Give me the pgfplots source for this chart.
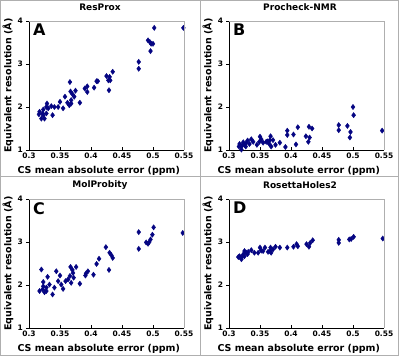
\documentclass[border=0pt]{standalone}
\usepackage{fontspec}
\setmainfont{DejaVu Sans}
\usepackage{pgfplots}
\pgfplotsset{compat=1.18}
\definecolor{pt}{RGB}{5,5,130}
\definecolor{frame}{RGB}{175,175,175}
\pgfplotsset{
  every axis title shift=0pt,
  panel/.style={
    scale only axis, width=155pt, height=129pt,
    xmin=0.3, xmax=0.55, ymin=1, ymax=4,
    xtick={0.3,0.35,0.4,0.45,0.5,0.55},
    ytick={1,2,3,4},
    axis lines*=left,
    axis line style={black, line width=0.7pt},
    tick align=inside,
    major tick length=3pt,
    tick style={black, line width=0.6pt},
    y tick style={xshift=-3pt},
    /pgf/number format/assume math mode=true,
    ticklabel style={font=\bfseries\fontsize{7.5}{8}\selectfont},
    xticklabel style={yshift=1pt},
    yticklabel style={xshift=-2.5pt},
    label style={font=\bfseries\fontsize{9.5}{11}\selectfont},
    xlabel={CS mean absolute error (ppm)},
    ylabel={Equivalent resolution (Å)},
    xlabel style={at={(axis description cs:0.45,0)}, anchor=center, yshift=-21pt},
    ylabel style={at={(axis description cs:-0.135,0.5)}, anchor=center},
    title style={font=\bfseries\fontsize{9}{10}\selectfont, at={(axis description cs:0.458,1)}, anchor=center, yshift=13.5pt},
    clip=false,
    after end axis/.code={\draw[frame, line width=0.7pt] (rel axis cs:0,1) -- (rel axis cs:1,1) -- (rel axis cs:1,0);},
  },
  pts/.style={only marks, mark=diamond*, mark size=2.6pt, color=pt, mark options={fill=pt, draw=pt}},
}
\newcommand{\letter}[1]{\node[anchor=north west, inner sep=0pt, font=\bfseries\fontsize{16}{16}\selectfont] at (rel axis cs:0,1) [xshift=4pt, yshift=-3pt] {#1};}
\begin{document}
\begin{tikzpicture}
\useasboundingbox (0,0) rectangle (399pt,356pt);
\draw[frame, line width=0.8pt] (0.4pt,0.4pt) rectangle (398.6pt,355.6pt);
\draw[frame, line width=0.8pt] (200pt,0) -- (200pt,356pt);
\draw[frame, line width=0.8pt] (0,180pt) -- (399pt,180pt);
% Panel A
\begin{axis}[panel, at={(29pt,206pt)}, anchor=south west, title={ResProx}]
\addplot[pts] coordinates {
(0.549,3.84) (0.502,3.84) (0.492,3.55) (0.495,3.51) (0.497,3.47) (0.500,3.47) (0.496,3.30)
(0.477,3.05) (0.477,2.89) (0.435,2.82) (0.430,2.70) (0.425,2.72) (0.428,2.62) (0.431,2.62)
(0.429,2.39) (0.411,2.60) (0.409,2.60) (0.405,2.45) (0.394,2.48) (0.394,2.35) (0.390,2.43)
(0.382,2.10) (0.375,2.38) (0.373,2.24) (0.367,2.36) (0.366,2.58) (0.368,2.16) (0.365,2.04)
(0.368,2.08) (0.358,2.24) (0.355,1.97) (0.350,2.12) (0.347,2.00) (0.341,2.00) (0.336,2.02)
(0.338,1.81) (0.331,1.97) (0.328,2.00) (0.323,1.94) (0.322,1.85) (0.320,1.73) (0.325,1.73)
(0.316,1.83) (0.317,1.89) (0.323,1.81) (0.328,1.85) (0.329,2.08) (0.370,2.30) (0.362,2.10)
};
\letter{A}
\end{axis}
% Panel B
\begin{axis}[panel, at={(229pt,206pt)}, anchor=south west, title={Procheck-NMR}]
\addplot[pts] coordinates {
(0.547,1.45) (0.500,2.00) (0.501,1.81) (0.491,1.56) (0.496,1.42) (0.495,1.29) (0.477,1.58)
(0.477,1.46) (0.434,1.50) (0.429,1.54) (0.430,1.29) (0.428,1.19) (0.424,1.32) (0.411,1.53)
(0.408,1.13) (0.404,1.36) (0.394,1.45) (0.394,1.35) (0.391,1.07) (0.382,1.17) (0.375,1.12)
(0.371,1.23) (0.367,1.32) (0.366,1.23) (0.365,1.14) (0.368,1.08) (0.360,1.19) (0.355,1.17)
(0.350,1.31) (0.349,1.19) (0.345,1.12) (0.339,1.19) (0.336,1.25) (0.333,1.14) (0.328,1.17)
(0.325,1.12) (0.323,1.18) (0.320,1.08) (0.317,1.14) (0.320,1.01) (0.327,1.08) (0.316,1.08)
(0.362,1.20) (0.352,1.25) (0.330,1.22) (0.322,1.12)
};
\letter{B}
\end{axis}
% Panel C
\begin{axis}[panel, at={(29pt,28pt)}, anchor=south west, title={MolProbity}]
\addplot[pts] coordinates {
(0.548,3.21) (0.501,3.34) (0.499,3.17) (0.496,3.06) (0.494,3.00) (0.492,2.96) (0.489,2.99)
(0.477,3.23) (0.477,2.84) (0.435,2.63) (0.433,2.69) (0.430,2.75) (0.424,2.88) (0.429,2.35)
(0.413,2.61) (0.409,2.49) (0.404,2.24) (0.395,2.32) (0.392,2.27) (0.391,2.22) (0.382,2.03)
(0.376,2.42) (0.372,2.17) (0.371,2.28) (0.367,2.42) (0.366,2.21) (0.368,2.05) (0.363,2.13)
(0.359,2.09) (0.355,1.91) (0.352,2.01) (0.350,2.22) (0.347,2.09) (0.344,2.32) (0.341,1.94)
(0.338,1.78) (0.333,2.01) (0.330,2.19) (0.328,1.94) (0.323,2.07) (0.322,1.90) (0.320,2.36)
(0.317,1.86) (0.325,1.83) (0.328,1.86) (0.323,1.97) (0.370,2.35)
};
\letter{C}
\end{axis}
% Panel D
\begin{axis}[panel, at={(229pt,28pt)}, anchor=south west, title={RosettaHoles2}]
\addplot[pts] coordinates {
(0.548,3.08) (0.501,3.12) (0.497,3.07) (0.494,3.06) (0.477,3.05) (0.477,2.98) (0.435,3.04)
(0.431,2.98) (0.425,2.95) (0.429,2.89) (0.411,2.90) (0.409,2.95) (0.404,2.89) (0.394,2.87)
(0.382,2.87) (0.375,2.89) (0.371,2.83) (0.367,2.87) (0.366,2.79) (0.363,2.77) (0.358,2.87)
(0.355,2.79) (0.350,2.87) (0.347,2.75) (0.341,2.75) (0.336,2.81) (0.331,2.77) (0.328,2.75)
(0.325,2.79) (0.323,2.71) (0.322,2.67) (0.317,2.67) (0.315,2.65) (0.320,2.60) (0.325,2.67)
(0.368,2.75) (0.352,2.80) (0.330,2.72)
};
\letter{D}
\end{axis}
\end{tikzpicture}
\end{document}
